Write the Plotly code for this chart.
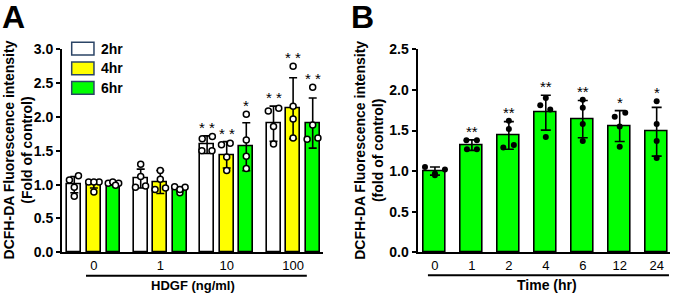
import plotly.graph_objects as go

# ---------------- Panel A data ----------------
doses = ["0", "1", "10", "100"]
series_names = ["2hr", "4hr", "6hr"]

a_mean_2hr = [1.00, 1.09, 1.59, 1.90]
a_mean_4hr = [1.00, 1.04, 1.44, 2.13]
a_mean_6hr = [1.01, 0.935, 1.56, 1.91]

a_sd_2hr = [0.12, 0.14, 0.13, 0.26]
a_sd_4hr = [0.05, 0.17, 0.195, 0.45]
a_sd_6hr = [0.02, 0.03, 0.355, 0.37]

a_pts_2hr = [[1.07, 1.13, 0.96, 0.83], [1.30, 1.12, 0.96, 0.98],
             [1.68, 1.71, 1.50, 1.50], [2.09, 2.13, 1.86, 1.60]]
a_pts_4hr = [[1.04, 1.04, 1.04, 0.89], [1.21, 1.08, 0.93, 0.95],
             [1.59, 1.61, 1.41, 1.21], [2.75, 2.16, 1.97, 1.69]]
a_pts_6hr = [[1.02, 1.04, 1.02, 0.99], [0.97, 0.96, 0.88, 0.93],
             [2.04, 1.66, 1.42, 1.24], [2.44, 1.88, 1.67, 1.69]]

a_sig_2hr = ["", "", "**", "**"]
a_sig_4hr = ["", "", "**", "**"]
a_sig_6hr = ["", "", "*", "**"]

# ---------------- Panel B data ----------------
times = ["0", "1", "2", "4", "6", "12", "24"]
b_mean = [1.00, 1.32, 1.44, 1.72, 1.64, 1.555, 1.485]
b_sd = [0.05, 0.065, 0.17, 0.215, 0.23, 0.19, 0.30]
b_pts = [[1.05, 1.02, 0.97, 0.95], [1.38, 1.38, 1.27, 1.27],
         [1.62, 1.52, 1.29, 1.32], [1.81, 1.76, 1.42, 1.90],
         [1.88, 1.78, 1.58, 1.37], [1.67, 1.72, 1.55, 1.30],
         [1.86, 1.58, 1.37, 1.16]]
b_sig = ["", "**", "**", "**", "**", "*", "*"]

# ---------------- styling (not data) ----------------
FONT = "Arial, Liberation Sans, Helvetica, sans-serif"
colors = ["#ffffff", "#ffff00", "#00ff00"]
a_width = 0.21
a_slot = 0.295
b_width = 0.6
# horizontal spread of dots, as a fraction of the half bar width
a_jit_2hr = [[-0.7, 0.6, 0, 0], [0, 0, -0.75, 0.7], [-0.7, 0.75, -0.75, 0.7], [-0.75, 0.75, 0, 0]]
a_jit_4hr = [[-0.75, 0.75, 0, 0], [0, 0, -0.75, 0.75], [-0.75, 0.5, 0, 0], [0, 0, 0, 0]]
a_jit_6hr = [[-0.75, -0.1, 0.75, 0.3], [-0.75, 0.75, 0, 0], [0, 0, 0, 0], [0, 0, -0.8, 0.75]]
b_jit = [[-0.9, 0.9, 0, 0], [-0.5, 0.45, -0.45, 0.45], [0, 0, -0.5, 0.45],
         [-0.5, 0.4, 0, 0], [0, 0, 0, 0], [-0.45, 0.5, 0, 0], [0, 0, 0, 0]]

fig = go.Figure()
annotations = []
star_font = dict(family=FONT, size=15, color="black")

a_means = [a_mean_2hr, a_mean_4hr, a_mean_6hr]
a_sds = [a_sd_2hr, a_sd_4hr, a_sd_6hr]
a_pts = [a_pts_2hr, a_pts_4hr, a_pts_6hr]
a_sigs = [a_sig_2hr, a_sig_4hr, a_sig_6hr]
a_jits = [a_jit_2hr, a_jit_4hr, a_jit_6hr]
idx_a = list(range(len(doses)))

for s, name in enumerate(series_names):
    shift = (s - 1) * a_slot
    fig.add_trace(go.Bar(
        x=idx_a, y=a_means[s], width=a_width, offset=shift - a_width / 2,
        marker=dict(color=colors[s], line=dict(color="black", width=1.6)),
        error_y=dict(type="data", array=a_sds[s], color="black", thickness=1.6, width=4),
        name=name, showlegend=False, xaxis="x", yaxis="y"))
    px, py = [], []
    for g in idx_a:
        for v, j in zip(a_pts[s][g], a_jits[s][g]):
            px.append(g + shift + j * a_width / 2)
            py.append(v)
        top = max(max(a_pts[s][g]), a_means[s][g] + a_sds[s][g])
        if a_sigs[s][g]:
            annotations.append(dict(x=g + shift, y=top, xref="x", yref="y",
                                    text=" ".join(a_sigs[s][g]), showarrow=False,
                                    xanchor="center", yanchor="bottom", yshift=-2,
                                    font=star_font))
    fig.add_trace(go.Scatter(
        x=px, y=py, mode="markers", cliponaxis=False, showlegend=False,
        marker=dict(size=6, color="white", line=dict(color="black", width=1.5)),
        xaxis="x", yaxis="y"))

idx_b = list(range(len(times)))
fig.add_trace(go.Bar(
    x=idx_b, y=b_mean, width=b_width,
    marker=dict(color="#00ff00", line=dict(color="black", width=1.6)),
    error_y=dict(type="data", array=b_sd, color="black", thickness=1.6, width=5),
    showlegend=False, xaxis="x2", yaxis="y2"))
bx, by = [], []
for g in idx_b:
    for v, j in zip(b_pts[g], b_jit[g]):
        bx.append(g + j * b_width / 2)
        by.append(v)
    top = max(max(b_pts[g]), b_mean[g] + b_sd[g])
    if b_sig[g]:
        annotations.append(dict(x=g, y=top, xref="x2", yref="y2", text=b_sig[g],
                                showarrow=False, xanchor="center", yanchor="bottom",
                                yshift=-2, font=star_font))
fig.add_trace(go.Scatter(
    x=bx, y=by, mode="markers", cliponaxis=False, showlegend=False,
    marker=dict(size=6, color="black"), xaxis="x2", yaxis="y2"))

axis_common = dict(showline=True, linecolor="black", linewidth=2, showgrid=False,
                   zeroline=False, automargin=False)
xtick_font = dict(family=FONT, size=13, color="black")
ytick_font = dict(family=FONT, size=14, color="black")

fig.update_layout(
    width=679, height=296, margin=dict(l=0, r=0, t=0, b=0, autoexpand=False),
    paper_bgcolor="white", plot_bgcolor="white", bargap=0,
    barmode="overlay",
    font=dict(family=FONT, color="black"),
    xaxis=dict(domain=[0.0913, 0.4757], range=[-0.48, 3.45], tickvals=idx_a, ticktext=doses,
               ticks="", anchor="y", tickfont=xtick_font, **axis_common),
    yaxis=dict(domain=[0.1476, 0.8334], range=[0, 3.0], dtick=0.5, tickformat=".1f",
               ticks="outside", ticklen=4, tickwidth=1.6, tickcolor="black", anchor="x",
               tickfont=ytick_font, **axis_common),
    xaxis2=dict(domain=[0.615, 0.9867], range=[-0.47, 6.36], tickvals=idx_b, ticktext=times,
                ticks="", anchor="y2", tickfont=xtick_font, **axis_common),
    yaxis2=dict(domain=[0.1476, 0.8334], range=[0, 2.5], dtick=0.5, tickformat=".1f",
                ticks="outside", ticklen=4, tickwidth=1.6, tickcolor="black", anchor="x2",
                tickfont=ytick_font, **axis_common),
)

# Bold tick labels
fig.update_xaxes(tickprefix="<b>", ticksuffix="</b>")
fig.update_yaxes(tickprefix="<b>", ticksuffix="</b>")

# axis titles, panel letters
annotations += [
    dict(x=0.027, y=0.493, xref="paper", yref="paper", textangle=-90, showarrow=False,
         xanchor="center", yanchor="middle",
         text="<b>DCFH-DA Fluorescence intensity<br>(Fold of control)</b>",
         font=dict(family=FONT, size=14, color="black")),
    dict(x=0.543, y=0.493, xref="paper", yref="paper", textangle=-90, showarrow=False,
         xanchor="center", yanchor="middle",
         text="<b>DCFH-DA Fluorescence intensity<br>(fold of control)</b>",
         font=dict(family=FONT, size=14, color="black")),
    dict(x=0.284, y=0.037, xref="paper", yref="paper", showarrow=False,
         xanchor="center", yanchor="middle",
         text="<b>HDGF (ng/ml)</b>", font=dict(family=FONT, size=13, color="black")),
    dict(x=0.806, y=0.037, xref="paper", yref="paper", showarrow=False,
         xanchor="center", yanchor="middle",
         text="<b>Time (hr)</b>", font=dict(family=FONT, size=14, color="black")),
    dict(x=0.0, y=1.0, xref="paper", yref="paper", xanchor="left", yanchor="top", yshift=3,
         showarrow=False, text="<b>A</b>", font=dict(family=FONT, size=32, color="black")),
    dict(x=0.514, y=1.0, xref="paper", yref="paper", xanchor="left", yanchor="top", yshift=3,
         showarrow=False, text="<b>B</b>", font=dict(family=FONT, size=32, color="black")),
]

# manual legend for panel A
shapes = []
leg_y = [0.8355, 0.769, 0.7034]
for s, name in enumerate(series_names):
    shapes.append(dict(type="rect", xref="paper", yref="paper",
                       x0=0.1056, x1=0.1384, y0=leg_y[s] - 0.0215, y1=leg_y[s] + 0.0215,
                       fillcolor=colors[s], line=dict(color="#2b4466", width=1.5)))
    annotations.append(dict(x=0.146, y=leg_y[s], xref="paper", yref="paper", xanchor="left",
                            yanchor="middle", showarrow=False, text="<b>%s</b>" % name,
                            font=dict(family=FONT, size=14, color="black")))

# brackets under the category labels
shapes.append(dict(type="line", xref="x domain", yref="paper", x0=0.092, x1=0.938,
                   y0=0.0686, y1=0.0686, line=dict(color="black", width=2)))
shapes.append(dict(type="line", xref="x2 domain", yref="paper", x0=0.041, x1=0.996,
                   y0=0.0703, y1=0.0703, line=dict(color="black", width=2)))

fig.update_layout(annotations=annotations, shapes=shapes)
fig.write_html("out.html", config={"displayModeBar": False},
               post_script="document.body.style.margin='0px';")
